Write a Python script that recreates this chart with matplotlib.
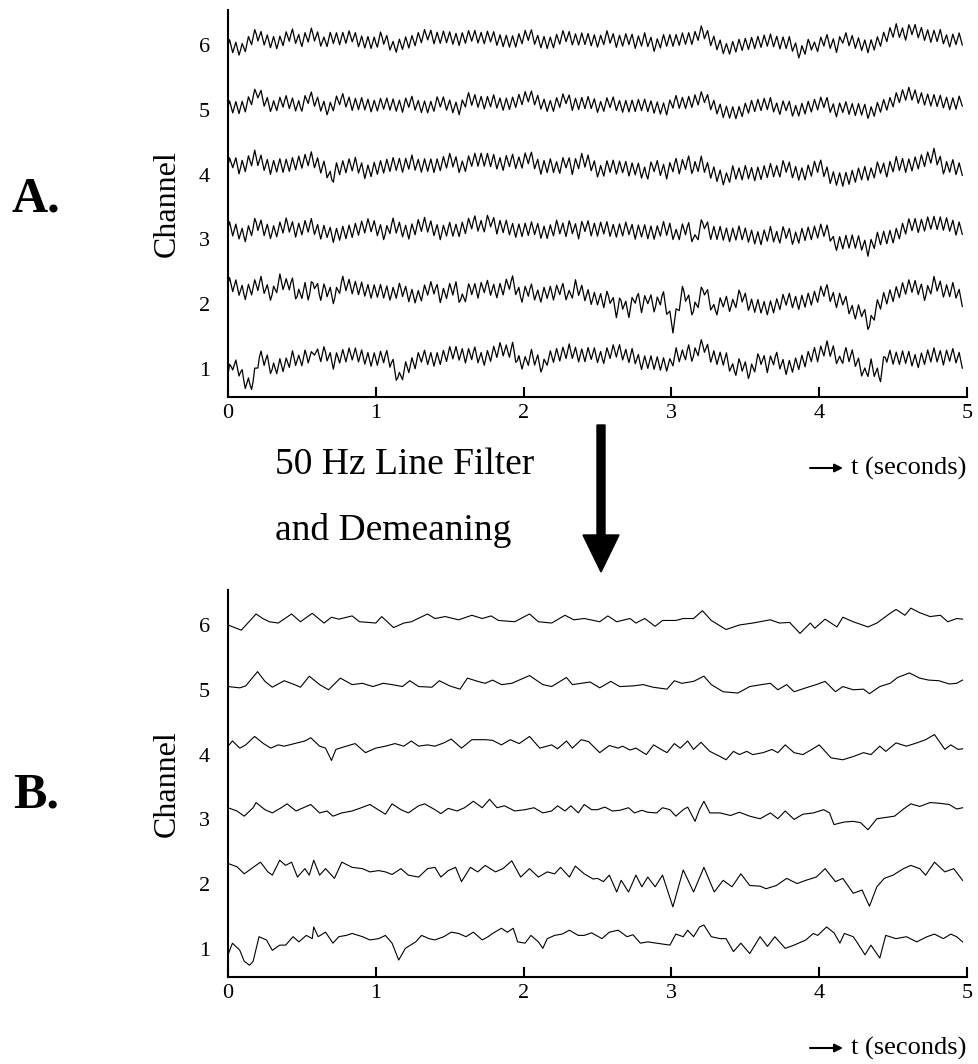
import numpy as np
import matplotlib
matplotlib.use("Agg")
import matplotlib.pyplot as plt
from matplotlib.patches import FancyArrow

plt.rcParams['font.family'] = ['Liberation Serif', 'DejaVu Serif']

# ---------------------------------------------------------------------------
# Filtered EEG traces (panel B).
# times in seconds, values in uV (100 uV = one channel spacing)
# ---------------------------------------------------------------------------
CH6_T = [0, .09, .19, .235, .28, .34, .43, .49, .57, .65, .70, .75, .84, .89, .95, 1.0, 1.04, 1.12,
         1.19, 1.24, 1.35, 1.40, 1.47, 1.56, 1.65, 1.72, 1.78, 1.83, 1.94, 2.04, 2.10, 2.19, 2.28,
         2.34, 2.41, 2.515, 2.57, 2.63, 2.72, 2.76, 2.82, 2.89, 2.94, 3.03, 3.08, 3.15, 3.21,
         3.27, 3.37, 3.46, 3.55, 3.67, 3.73, 3.80, 3.87, 3.94, 3.97, 4.04, 4.12, 4.16, 4.23, 4.33,
         4.39, 4.48, 4.52, 4.58, 4.62, 4.68, 4.75, 4.82, 4.87, 4.93, 4.97]
CH6_V = [0, -8, 17, 10, 5, 3, 17, 5, 18, 3, 12, 9, 14, 5, 4, 3, 13, -4,
         3, 5, 17, 10, 13, 8, 15, 10, 14, 7, 5, 17, 5, 3, 15,
         8, 10, 5, 14, 5, 10, 3, 10, -2, 7, 7, 10, 10, 22,
         7, -7, 0, 3, 8, 3, 4, -13, 3, -5, 9, -3, 12, 5, -3,
         3, 18, 24, 15, 26, 19, 13, 15, 5, 10, 9]

CH5_T = [0, .08, .12, .20, .25, .30, .38, .45, .49, .55, .62, .68, .76, .84, .91, .98, 1.05, 1.11,
         1.18, 1.23, 1.29, 1.38, 1.43, 1.50, 1.57, 1.62, 1.69, 1.74, 1.79, 1.85, 1.92, 2.04, 2.13,
         2.19, 2.29, 2.33, 2.39, 2.45, 2.515, 2.59, 2.65, 2.74, 2.81, 2.875, 2.97, 3.02, 3.07,
         3.15, 3.22, 3.27, 3.35, 3.45, 3.53, 3.61, 3.67, 3.72, 3.78, 3.83, 3.91, 3.98, 4.04, 4.11,
         4.16, 4.23, 4.30, 4.34, 4.41, 4.48, 4.53, 4.61, 4.68, 4.74, 4.81, 4.88, 4.93, 4.97]
CH5_V = [5, 3, 6, 28, 13, 4, 14, 8, 4, 21, 8, 0, 18, 8, 10, 5, 10, 8,
         5, 14, 5, 4, 14, 6, 1, 18, 13, 10, 15, 8, 10, 22, 8,
         5, 19, 8, 10, 12, 3, 13, 5, 6, 8, 4, 1, 14, 10,
         13, 21, 8, -3, -5, 5, 8, 10, 0, 8, -3, 3, 8, 13, -3,
         5, 0, 1, -6, 5, 10, 19, 26, 18, 15, 14, 9, 10, 15]

CH4_T = [0, .03, .08, .12, .18, .24, .29, .34, .38, .45, .52, .56, .62, .66, .70, .73, .80, .86,
         .93, 1.0, 1.065, 1.13, 1.19, 1.24, 1.29, 1.35, 1.40, 1.46, 1.51, 1.58, 1.65, 1.74, 1.79,
         1.85, 1.91, 1.97, 2.04, 2.11, 2.19, 2.23, 2.29, 2.33, 2.39, 2.44, 2.515, 2.58, 2.64,
         2.67, 2.72, 2.76, 2.83, 2.88, 2.93, 2.97, 3.02, 3.06, 3.11, 3.15, 3.20, 3.26, 3.33, 3.37,
         3.42, 3.46, 3.51, 3.55, 3.62, 3.68, 3.72, 3.77, 3.83, 3.89, 3.95, 4.00, 4.08, 4.16, 4.23,
         4.30, 4.35, 4.41, 4.45, 4.52, 4.59, 4.66, 4.72, 4.78, 4.85, 4.89, 4.94, 4.97]
CH4_V = [13, 21, 10, 15, 28, 17, 10, 15, 13, 17, 21, 26, 13, 10, -9, 8, 13, 17,
         3, 10, 13, 17, 13, 21, 13, 15, 13, 18, 24, 10, 23, 23, 22,
         15, 23, 17, 28, 10, 15, 9, 21, 10, 23, 20, 3, 14, 10,
         13, 7, 10, 0, 15, 8, 3, 17, 10, 21, 8, 19, 5, -3, -8,
         5, 0, 5, 0, 3, 8, 3, 15, 3, 0, 8, 15, -5, -8, -3,
         3, 0, 13, 5, 18, 13, 18, 23, 31, 8, 15, 8, 9]

CH3_T = [0, .06, .11, .17, .19, .25, .30, .36, .40, .46, .51, .56, .62, .67, .71, .77, .84, .89,
         .96, 1.03, 1.065, 1.11, 1.17, 1.22, 1.29, 1.33, 1.40, 1.44, 1.49, 1.55, 1.60, 1.66, 1.72,
         1.77, 1.82, 1.87, 1.94, 2.01, 2.07, 2.13, 2.19, 2.23, 2.28, 2.32, 2.37, 2.41, 2.46,
         2.50, 2.55, 2.60, 2.65, 2.71, 2.75, 2.80, 2.84, 2.90, 2.94, 2.99, 3.03, 3.08, 3.11, 3.16,
         3.19, 3.22, 3.26, 3.33, 3.40, 3.46, 3.53, 3.60, 3.67, 3.72, 3.77, 3.83, 3.89, 3.96, 4.03,
         4.07, 4.10, 4.17, 4.23, 4.28, 4.33, 4.39, 4.45, 4.51, 4.57, 4.62, 4.68, 4.75, 4.81, 4.88,
         4.93, 4.97]
CH3_V = [18, 13, 5, 18, 26, 15, 10, 18, 24, 13, 18, 23, 10, 13, 5, 10, 13, 17,
         23, 13, 8, 24, 15, 10, 21, 24, 15, 9, 17, 13, 18, 28, 18,
         31, 18, 21, 13, 15, 18, 10, 13, 21, 13, 21, 10, 23, 15,
         15, 19, 13, 14, 18, 10, 14, 11, 10, 18, 15, 5, 15, 19, -3,
         15, 28, 10, 10, 6, 11, 5, 1, 10, 1, 13, 0, 8, 10, 15,
         10, -8, -4, -3, -5, -16, 1, 3, 5, 16, 24, 20, 26, 25, 23,
         16, 18]

CH2_T = [0, .06, .11, .17, .22, .27, .30, .35, .39, .43, .47, .52, .55, .58, .62, .66, .72, .77,
         .84, .91, .96, 1.02, 1.065, 1.11, 1.17, 1.22, 1.29, 1.35, 1.40, 1.44, 1.49, 1.54, 1.58,
         1.64, 1.69, 1.74, 1.81, 1.86, 1.92, 1.98, 2.04, 2.10, 2.16, 2.21, 2.25, 2.31, 2.35,
         2.41, 2.47, 2.50, 2.54, 2.58, 2.63, 2.66, 2.71, 2.76, 2.80, 2.84, 2.89, 2.94, 3.01, 3.08,
         3.15, 3.22, 3.29, 3.35, 3.41, 3.47, 3.53, 3.60, 3.64, 3.71, 3.78, 3.85, 3.91, 3.98, 4.04,
         4.11, 4.16, 4.23, 4.29, 4.34, 4.39, 4.44, 4.50, 4.57, 4.62, 4.68, 4.72, 4.78, 4.85, 4.91,
         4.97]
CH2_V = [32, 27, 16, 26, 34, 19, 14, 37, 29, 34, 11, 24, 14, 37, 14, 24, 9, 34,
         26, 24, 19, 21, 19, 15, 24, 14, 11, 24, 26, 11, 21, 26, 4,
         26, 19, 29, 19, 24, 36, 11, 24, 11, 19, 16, 26, 11, 28,
         16, 8, 9, 4, 14, -12, 6, -12, 14, -4, 11, -4, 14, -35, 22,
         -12, 26, -12, 6, -4, 16, -2, -3, -7, -2, 9, 1, 6, 11, 24,
         4, 9, -14, -9, -34, -4, 9, 14, 24, 29, 24, 14, 34, 19, 24,
         6]

CH1_T = [0, .03, .08, .11, .146, .17, .21, .26, .30, .35, .39, .44, .48, .53, .57, .58, .61, .66,
         .71, .75, .80, .84, .91, .96, 1.02, 1.065, 1.11, 1.155, 1.20, 1.27, 1.31, 1.36, 1.40,
         1.46, 1.51, 1.56, 1.61, 1.66, 1.72, 1.76, 1.79, 1.85, 1.89, 1.93, 1.96, 2.01, 2.05,
         2.10, 2.13, 2.16, 2.21, 2.26, 2.31, 2.37, 2.41, 2.46, 2.53, 2.58, 2.64, 2.70, 2.74,
         2.79, 2.84, 2.90, 2.99, 3.03, 3.08, 3.11, 3.15, 3.19, 3.22, 3.27, 3.33, 3.37, 3.42, 3.47,
         3.53, 3.60, 3.65, 3.70, 3.77, 3.83, 3.91, 3.96, 3.99, 4.05, 4.10, 4.14, 4.17, 4.23, 4.26,
         4.31, 4.35, 4.41, 4.45, 4.52, 4.59, 4.66, 4.73, 4.78, 4.84, 4.89, 4.93, 4.97]
CH1_V = [-9, 9, -2, -19, -25, -19, 19, 14, -2, 6, 6, 19, 11, 21, 16, 34, 19, 26,
         9, 19, 21, 24, 19, 14, 16, 21, 9, -17, 1, 11, 21, 16, 14,
         19, 26, 24, 19, 26, 14, 19, 24, 32, 26, 32, 11, 9, 21,
         11, 1, 16, 21, 23, 29, 21, 21, 25, 16, 26, 29, 19, 22,
         9, 11, 9, 6, 23, 19, 29, 19, 34, 37, 19, 16, 16, -4, 9,
         -7, 19, 4, 19, 1, 6, 14, 24, 21, 34, 25, 9, 24, 19, 9,
         -9, 6, -14, 21, 16, 19, 11, 19, 23, 16, 23, 19, 11]

CH_TIMES = [CH1_T, CH2_T, CH3_T, CH4_T, CH5_T, CH6_T]
CH_VALUES = [CH1_V, CH2_V, CH3_V, CH4_V, CH5_V, CH6_V]
CHANNELS = [1, 2, 3, 4, 5, 6]

# line noise riding on the raw traces (panel A): apparent rate and amplitude per channel
HUM_HZ = 23.5
HUM_AMP = [10, 10, 10, 10, 9, 9]
UV_PER_CHANNEL = 100.0

X_TICKS = [0, 1, 2, 3, 4, 5]

# ---------------------------------------------------------------------------
W, H = 979, 1064
fig = plt.figure(figsize=(W / 100, H / 100), dpi=100)


def px_rect(left, top, right, bottom):
    return [left / W, 1 - bottom / H, (right - left) / W, (bottom - top) / H]


ax_a = fig.add_axes(px_rect(228, 10, 967, 397))
ax_b = fig.add_axes(px_rect(228, 590, 967, 977))

# four samples per hum cycle -> the sharp zig-zag look of the raw recording
t_fine = np.arange(0, 4.975, 1 / (4 * HUM_HZ))
for ch, t, v, amp in zip(CHANNELS, CH_TIMES, CH_VALUES, HUM_AMP):
    raw = np.interp(t_fine, t, v) + amp * np.sin(2 * np.pi * HUM_HZ * t_fine)
    ax_a.plot(t_fine, ch + raw / UV_PER_CHANNEL, color='k', lw=0.9)
    ax_b.plot(t, ch + np.array(v) / UV_PER_CHANNEL, color='k', lw=0.8)

for ax in (ax_a, ax_b):
    ax.set_xlim(0, 5)
    ax.set_ylim(0.568, 6.54)
    ax.set_xticks(X_TICKS)
    ax.set_xticklabels([str(x) for x in X_TICKS])
    ax.set_yticks(CHANNELS)
    ax.set_yticklabels([str(c) for c in CHANNELS])
    for s in ('top', 'right'):
        ax.spines[s].set_visible(False)
    for s in ('left', 'bottom'):
        ax.spines[s].set_linewidth(1.5)
    ax.tick_params(axis='x', direction='in', length=7, width=1.5, pad=5, labelsize=16)
    ax.tick_params(axis='y', length=0, pad=13, labelsize=16)
    ax.set_ylabel('Channel', fontsize=23, labelpad=12)

# panel letters
fig.text(36 / W, 1 - 200 / H, 'A.', fontsize=36, fontweight='bold', ha='center', va='center')
fig.text(36 / W, 1 - 795 / H, 'B.', fontsize=36, fontweight='bold', ha='center', va='center')

# time axis hints
for y in (468, 1048):
    fig.text(851 / W, 1 - y / H, 't (seconds)', fontsize=19, ha='left', va='center')
    ax_a.annotate('', xy=(843, H - y), xytext=(810, H - y), xycoords='figure pixels',
                  textcoords='figure pixels',
                  arrowprops=dict(arrowstyle='-|>', lw=1.5, color='k', mutation_scale=12,
                                  shrinkA=0, shrinkB=0))

# processing step
fig.text(275 / W, 1 - 465 / H, '50 Hz Line Filter', fontsize=27, ha='left', va='center')
fig.text(275 / W, 1 - 530 / H, 'and Demeaning', fontsize=27, ha='left', va='center')
fig.add_artist(FancyArrow(601 / W, 1 - 425 / H, 0, -(572 - 425) / H, width=8 / W,
                          head_width=36 / W, head_length=37 / H,
                          length_includes_head=True, color='k', transform=fig.transFigure))

fig.savefig('out.png', dpi=100)
